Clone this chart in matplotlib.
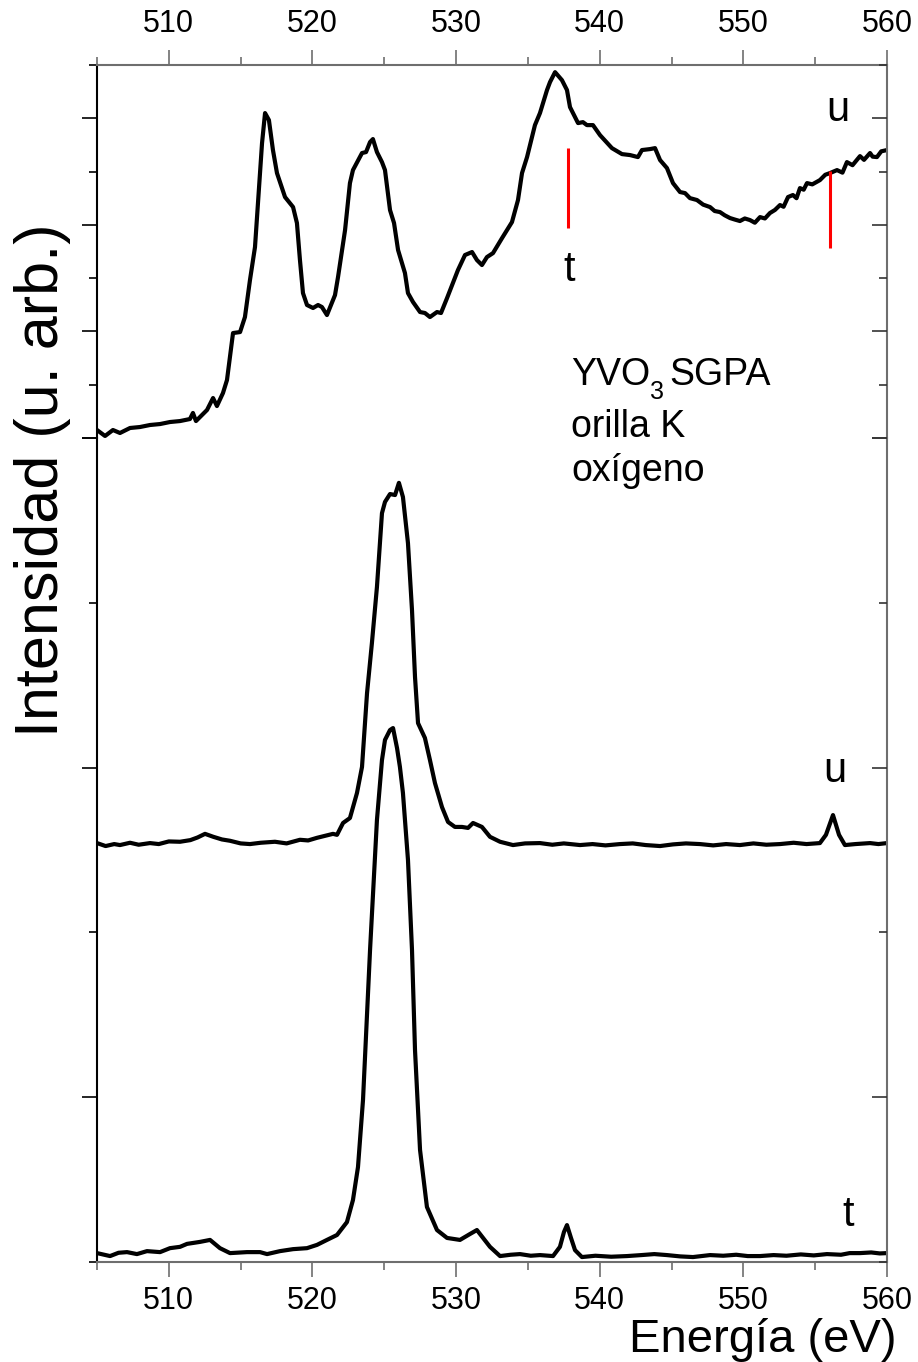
import numpy as np
import matplotlib
matplotlib.use("Agg")
import matplotlib.pyplot as plt
from matplotlib.ticker import FixedLocator, MultipleLocator, NullFormatter

plt.rcParams['font.family'] = ['Liberation Sans', 'DejaVu Sans']

# --- data (energy in eV, intensity in arbitrary units) ---
# top spectrum (upper panel)
e_top = [505.0, 505.56, 506.11, 506.6, 507.3, 507.99, 508.69, 509.39, 510.08, 510.78,
         511.47, 511.68, 511.89, 512.66, 513.08, 513.35, 513.77, 514.05, 514.47, 514.96,
         515.3, 515.65, 516.0, 516.21, 516.49, 516.7, 516.97, 517.25, 517.53, 518.09,
         518.65, 518.92, 519.13, 519.34, 519.62, 520.04, 520.39, 520.66, 521.01, 521.57,
         521.78, 522.27, 522.61, 522.82, 523.45, 523.73, 524.01, 524.21, 524.49, 524.84,
         525.05, 525.4, 525.68, 525.96, 526.44, 526.65, 527.0, 527.49, 527.83, 528.18,
         528.67, 528.95, 529.37, 529.78, 530.13, 530.62, 531.11, 531.45, 531.8, 532.15,
         532.57, 533.2, 533.89, 534.31, 534.59, 534.94, 535.49, 535.84, 536.33, 536.54,
         536.89, 537.37, 537.72, 537.93, 538.49, 538.83, 539.11, 539.53, 540.02, 540.85,
         541.55, 542.11, 542.66, 542.94, 543.5, 543.85, 544.2, 544.68, 545.1, 545.59,
         545.94, 546.28, 546.77, 547.2, 547.68, 548.0, 548.37, 548.7, 549.07, 549.4,
         549.76, 550.1, 550.46, 550.8, 551.16, 551.5, 551.85, 552.2, 552.55, 552.8,
         553.11, 553.45, 553.7, 553.94, 554.2, 554.43, 554.8, 555.33, 555.7, 556.03,
         556.52, 556.9, 557.21, 557.6, 558.12, 558.4, 558.82, 559.0, 559.3, 559.6, 560.0]
i_top = [0.075, 0.019, 0.075, 0.047, 0.094, 0.103, 0.122, 0.131, 0.150, 0.159,
         0.178, 0.235, 0.159, 0.263, 0.375, 0.300, 0.422, 0.544, 0.985, 0.994,
         1.135, 1.482, 1.792, 2.204, 2.767, 3.049, 2.983, 2.702, 2.486, 2.261,
         2.167, 2.017, 1.670, 1.360, 1.248, 1.220, 1.248, 1.229, 1.154, 1.341,
         1.510, 1.951, 2.392, 2.514, 2.674, 2.683, 2.777, 2.805, 2.683, 2.589,
         2.514, 2.139, 2.017, 1.764, 1.548, 1.360, 1.276, 1.182, 1.173, 1.135,
         1.182, 1.173, 1.313, 1.454, 1.576, 1.717, 1.745, 1.670, 1.623, 1.698,
         1.735, 1.876, 2.026, 2.233, 2.486, 2.636, 2.936, 3.049, 3.265, 3.340,
         3.433, 3.358, 3.265, 3.105, 2.955, 2.964, 2.936, 2.936, 2.842, 2.720,
         2.664, 2.655, 2.636, 2.702, 2.711, 2.720, 2.608, 2.533, 2.392, 2.308,
         2.298, 2.251, 2.233, 2.190, 2.167, 2.130, 2.120, 2.090, 2.064, 2.050,
         2.036, 2.060, 2.045, 2.020, 2.073, 2.060, 2.111, 2.140, 2.186, 2.170,
         2.261, 2.280, 2.250, 2.345, 2.330, 2.392, 2.380, 2.420, 2.470, 2.486,
         2.514, 2.490, 2.589, 2.560, 2.645, 2.610, 2.674, 2.640, 2.636, 2.690, 2.702]

# middle spectrum (lower panel)
e_mid = [505.0, 505.6, 506.2, 506.6, 507.3, 507.9, 508.69, 509.3, 510.0, 510.78,
         511.5, 512.0, 512.52, 513.1, 513.7, 514.26, 515.0, 515.65, 516.4, 517.39,
         518.2, 519.13, 519.7, 520.32,
         521.43, 521.71, 522.13, 522.61, 523.1, 523.45, 523.8, 524.14, 524.49, 524.84,
         525.05, 525.4, 525.75, 526.02, 526.3, 526.65, 526.93, 527.14, 527.35, 527.83,
         528.18, 528.53, 529.02, 529.44, 529.92, 530.41, 530.83, 531.18, 531.8, 532.36,
         533.06, 533.96, 534.8, 535.84, 536.7, 537.5, 538.63, 539.5, 540.4, 541.41,
         542.3, 543.2, 544.2, 545.1, 546.0, 546.98, 547.9, 548.8, 549.76, 550.7,
         551.6, 552.55, 553.5, 554.4, 555.33,
         555.75, 556.24, 556.66, 557.07, 557.8, 558.82, 559.4, 560.0]
i_mid = [1.271, 1.262, 1.268, 1.265, 1.272, 1.266, 1.271, 1.268, 1.276, 1.275,
         1.280, 1.288, 1.299, 1.290, 1.282, 1.278, 1.270, 1.268, 1.272, 1.275,
         1.270, 1.281, 1.279, 1.287,
         1.299, 1.296, 1.332, 1.347, 1.423, 1.502, 1.726, 1.878, 2.048, 2.272,
         2.306, 2.330, 2.327, 2.364, 2.321, 2.181, 1.978, 1.775, 1.635, 1.590,
         1.523, 1.453, 1.380, 1.335, 1.320, 1.320, 1.317, 1.332, 1.320, 1.290,
         1.275, 1.265, 1.270, 1.271, 1.266, 1.270, 1.265, 1.268, 1.264, 1.268,
         1.270, 1.265, 1.262, 1.267, 1.270, 1.268, 1.264, 1.268, 1.265, 1.270,
         1.266, 1.268, 1.272, 1.268, 1.271,
         1.296, 1.356, 1.296, 1.265, 1.268, 1.271, 1.268, 1.271]

# bottom spectrum (lower panel)
e_bot = [505.0, 505.91, 506.5, 507.09, 507.78, 508.48, 509.39, 510.08, 510.78, 511.27, 512.17,
         512.87, 513.56, 514.26, 515.44, 516.35, 516.84, 517.74, 518.65, 519.62, 520.32,
         521.01, 521.71, 522.4, 522.82, 523.17, 523.52, 524.01, 524.49, 524.84, 525.05,
         525.4, 525.61, 525.89, 526.09, 526.3, 526.65, 526.93, 527.14, 527.49, 527.97,
         528.67, 529.37, 530.27, 530.97, 531.45, 532.36, 533.06, 533.8, 534.45, 535.2, 535.84, 536.75,
         537.23, 537.51, 537.72, 538.0, 538.28, 538.76, 539.7, 540.8, 541.9, 542.9, 543.8, 544.68,
         545.6, 546.49, 547.68, 548.6, 549.5, 550.3, 551.16, 552.1, 553.0, 554.0, 554.9, 555.82,
         556.8, 557.4, 558.12, 558.9, 559.5, 560.0]
i_bot = [0.027, 0.018, 0.028, 0.030, 0.024, 0.033, 0.030, 0.042, 0.046, 0.055, 0.061,
         0.067, 0.042, 0.027, 0.030, 0.030, 0.024, 0.033, 0.039, 0.042, 0.052,
         0.067, 0.082, 0.121, 0.188, 0.288, 0.492, 0.947, 1.341, 1.523, 1.584,
         1.614, 1.620, 1.559, 1.502, 1.423, 1.220, 0.947, 0.643, 0.340, 0.167,
         0.097, 0.073, 0.067, 0.085, 0.097, 0.046, 0.018, 0.022, 0.024, 0.019, 0.021, 0.018,
         0.046, 0.091, 0.112, 0.073, 0.036, 0.015, 0.019, 0.016, 0.018, 0.021, 0.024, 0.021,
         0.017, 0.015, 0.021, 0.019, 0.022, 0.018, 0.018, 0.021, 0.019, 0.023, 0.020, 0.024,
         0.022, 0.027, 0.027, 0.029, 0.026, 0.027]

# red markers in top panel: energy, y from, y to
mark_e = [537.76, 556.03]
mark_y0 = [1.97, 1.78]
mark_y1 = [2.72, 2.51]

xticks = [510, 520, 530, 540, 550, 560]

fig = plt.figure(figsize=(9.18, 13.62), dpi=100)
ax_top = fig.add_axes([0.10566, 0.67841, 0.86057, 0.27386])
ax_bot = fig.add_axes([0.10566, 0.07342, 0.86057, 0.60499])
ax_bot.patch.set_visible(False)

gray = '#6e6e6e'
for ax in (ax_top, ax_bot):
    ax.set_xlim(505, 560)
    ax.xaxis.set_major_locator(FixedLocator(xticks))
    ax.xaxis.set_minor_locator(MultipleLocator(5))
    ax.spines['left'].set_color('black')
    ax.spines['left'].set_linewidth(1.5)
    for s in ('right', 'top', 'bottom'):
        ax.spines[s].set_color(gray)
        ax.spines[s].set_linewidth(1.5)
    ax.yaxis.set_major_formatter(NullFormatter())
    ax.yaxis.set_minor_formatter(NullFormatter())
    ax.tick_params(axis='y', which='both', left=True, right=False, direction='out',
                   color='black', width=1.2)
    ax.tick_params(axis='y', which='major', length=11)
    ax.tick_params(axis='y', which='minor', length=6)
    ax.tick_params(axis='x', which='both', color=gray, width=1.2, labelsize=22)
    ax.tick_params(axis='x', which='major', length=11)
    ax.tick_params(axis='x', which='minor', length=6)

ax_top.set_ylim(0, 3.5)
ax_top.yaxis.set_major_locator(FixedLocator([0, 1, 2, 3]))
ax_top.yaxis.set_minor_locator(FixedLocator([0.5, 1.5, 2.5, 3.5]))
ax_top.spines['bottom'].set_visible(False)
ax_top.tick_params(axis='x', which='both', top=True, bottom=False, labeltop=True,
                   labelbottom=False, direction='out', pad=8)

ax_bot.set_ylim(0, 2.5)
ax_bot.yaxis.set_major_locator(FixedLocator([0.5, 1.5, 2.5]))
ax_bot.yaxis.set_minor_locator(FixedLocator([0, 1, 2]))
ax_bot.spines['top'].set_visible(False)
ax_bot.tick_params(axis='x', which='both', top=False, bottom=True, labeltop=False,
                   labelbottom=True, direction='out', pad=6)

# right-side ticks point inward
for ax, maj, mnr, lim in ((ax_top, [0, 1, 2, 3], [0.5, 1.5, 2.5, 3.5], (0, 3.5)),
                          (ax_bot, [0.5, 1.5, 2.5], [0, 1, 2], (0, 2.5))):
    tw = ax.twinx()
    tw.patch.set_visible(False)
    tw.set_ylim(*lim)
    tw.yaxis.set_major_locator(FixedLocator(maj))
    tw.yaxis.set_minor_locator(FixedLocator(mnr))
    tw.yaxis.set_major_formatter(NullFormatter())
    tw.tick_params(axis='y', which='both', direction='in', color='#333333', width=1.2)
    tw.tick_params(axis='y', which='major', length=11)
    tw.tick_params(axis='y', which='minor', length=6)
    for s in tw.spines.values():
        s.set_visible(False)

lw = 3.0
ax_top.plot(e_top, i_top, color='black', lw=lw)
ax_bot.plot(e_mid, i_mid, color='black', lw=lw)
ax_bot.plot(e_bot, i_bot, color='black', lw=lw)

ax_top.vlines(mark_e, mark_y0, mark_y1, color='red', lw=2.2)

ax_top.text(556.6, 3.08, 'u', fontsize=30, ha='center', va='center')
ax_top.text(537.9, 1.58, 't', fontsize=30, ha='center', va='center')
ax_bot.text(556.4, 1.49, 'u', fontsize=30, ha='center', va='center')
ax_bot.text(557.3, 0.143, 't', fontsize=30, ha='center', va='center')

# sample label, subscript 3 placed right after "YVO"
t1 = ax_top.text(538.0, 0.497, 'YVO', fontsize=27, ha='left', va='baseline')
ax_top.annotate('3', xy=(1, 0), xycoords=t1, xytext=(0, -8), textcoords='offset points',
                fontsize=18, ha='left', va='bottom')
ax_top.annotate('SGPA', xy=(1, 0), xycoords=t1, xytext=(14, 0), textcoords='offset points',
                fontsize=27, ha='left', va='bottom')
ax_top.text(538.0, 0.009, 'orilla K', fontsize=27, ha='left', va='baseline')
ax_top.text(538.0, -0.40, 'oxígeno', fontsize=27, ha='left', va='baseline', zorder=10)

fig.text(0.0458, 0.6476, 'Intensidad (u. arb.)', rotation=90, fontsize=44,
         ha='center', va='center')
fig.text(0.977, 0.0073, 'Energía (eV)', fontsize=34, ha='right', va='baseline')

fig.savefig('out.png', dpi=100)
